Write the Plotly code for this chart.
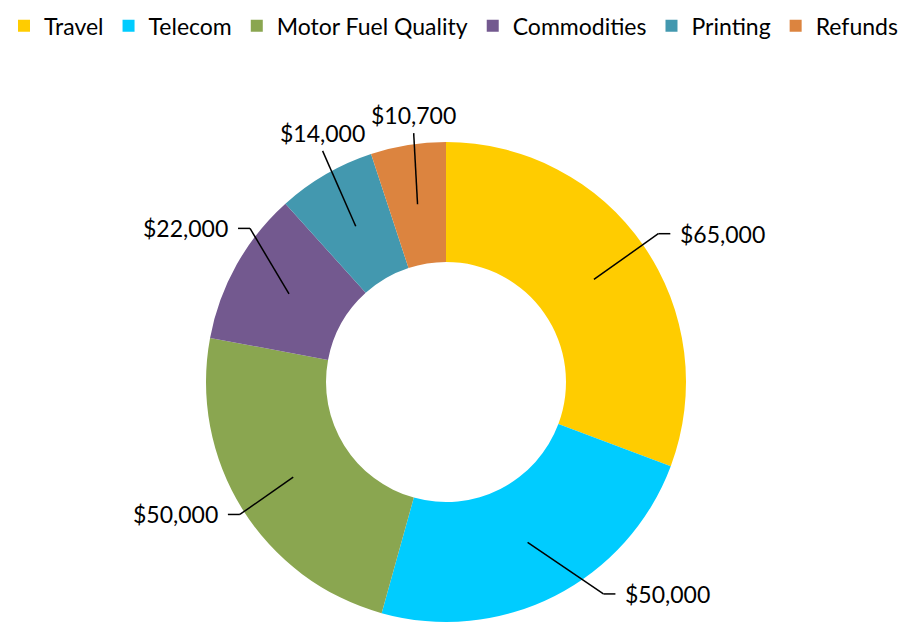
import math
import plotly.graph_objects as go

# ---- data ----
categories = ["Travel", "Telecom", "Motor Fuel Quality", "Commodities", "Printing", "Refunds"]
amounts = [65000, 50000, 50000, 22000, 14000, 10700]

# ---- style ----
colors = ["#FFCC00", "#00CCFF", "#8AA650", "#73598F", "#4398AF", "#DC843F"]
label_angle_nudge = [-0.2, -9.65, -0.8, 8.8, 2.0, 1.7]   # degrees, leader-line direction tweak
label_radius = [259, 264, 245, 249, 262, 251]           # px from centre to leader-line end
FONT = "Lato"
W, H = 907, 624
dom_x = [206 / W, 686 / W]
dom_y = [1 - 622 / H, 1 - 142 / H]
hole = 0.5

fig = go.Figure()
fig.add_trace(go.Pie(
    labels=categories, values=amounts, sort=False, direction="clockwise",
    rotation=0, hole=hole, marker=dict(colors=colors, line=dict(width=0)),
    textinfo="none", hoverinfo="label+value", domain=dict(x=dom_x, y=dom_y),
))

cx = (dom_x[0] + dom_x[1]) / 2 * W
cy = (1 - (dom_y[0] + dom_y[1]) / 2) * H
R = min((dom_x[1] - dom_x[0]) * W, (dom_y[1] - dom_y[0]) * H) / 2
r_mid = R * (1 + hole) / 2
total = sum(amounts)

shapes = []
annotations = []
line_style = dict(color="#000000", width=1.5)


def seg(x0, y0, x1, y1):
    shapes.append(dict(type="line", xref="x", yref="y", x0=x0, y0=y0, x1=x1, y1=y1,
                       line=line_style, layer="above"))


cum = 0
for v, nud, lr in zip(amounts, label_angle_nudge, label_radius):
    mid = (cum + v / 2) / total * 360
    cum += v
    a = math.radians(mid)
    sx, sy = cx + r_mid * math.sin(a), cy - r_mid * math.cos(a)
    la = math.radians(mid + nud)
    ex, ey = cx + lr * math.sin(la), cy - lr * math.cos(la)
    s = math.sin(la)
    txt = f"${v:,}"
    if abs(s) > 0.55:
        side = 1 if s > 0 else -1
        hx = ex + side * 12
        seg(sx, sy, ex, ey)
        seg(ex, ey, hx, ey)
        annotations.append(dict(x=hx + side * 8, y=ey, text=txt, showarrow=False,
                                xref="x", yref="y",
                                xanchor="left" if side > 0 else "right", yanchor="middle",
                                font=dict(family=FONT, size=23, color="#000000")))
    else:
        seg(sx, sy, ex, ey)
        annotations.append(dict(x=ex, y=ey - 18, text=txt, showarrow=False,
                                xref="x", yref="y", xanchor="center", yanchor="middle",
                                font=dict(family=FONT, size=23, color="#000000")))

fig.add_trace(go.Scatter(x=[None], y=[None], mode="lines", showlegend=False, hoverinfo="skip"))

fig.update_layout(
    width=W, height=H, margin=dict(l=0, r=0, t=0, b=0),
    paper_bgcolor="white", plot_bgcolor="white",
    showlegend=True,
    legend=dict(orientation="h", x=0.5, xanchor="center", y=0.993, yanchor="top",
                font=dict(family=FONT, size=23, color="#000000"), traceorder="normal"),
    xaxis=dict(range=[0, W], visible=False, fixedrange=True),
    yaxis=dict(range=[H, 0], visible=False, fixedrange=True),
    annotations=annotations,
    shapes=shapes,
)

fig.write_html("out.html", config={"displayModeBar": False},
               post_script="document.body.style.margin='0px';")
